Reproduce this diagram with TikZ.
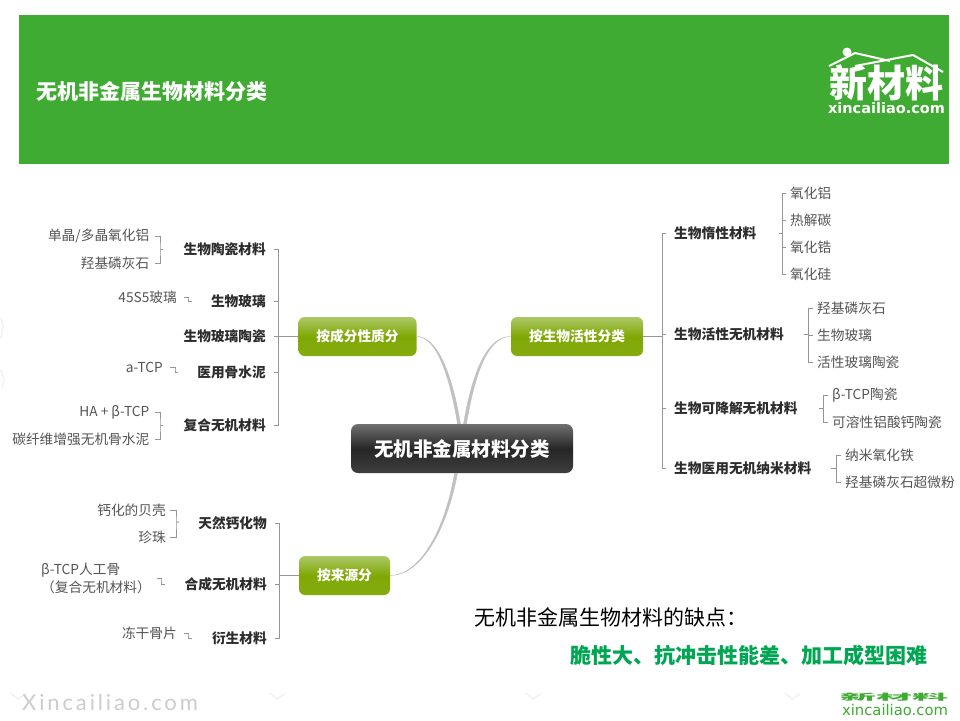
\documentclass[tikz,border=0pt]{standalone}
\usepackage{fontspec}
\setmainfont{Noto Sans CJK SC}
\newfontfamily\logofont{DejaVu Sans}
\newfontfamily\markfont[LetterSpace=13]{Lato}
\usepackage{xcolor}
\usepackage{tikz}
\definecolor{bannergreen}{RGB}{63, 171, 50}
\definecolor{notegreen}{RGB}{0, 166, 81}
\definecolor{twiggray}{RGB}{150, 150, 150}
\definecolor{boughgray}{RGB}{192, 192, 192}
\definecolor{kidtext}{RGB}{45, 45, 45}
\definecolor{leaftext}{RGB}{85, 85, 85}
\definecolor{coretop}{RGB}{112, 112, 112}
\definecolor{coremid}{RGB}{38, 38, 38}
\definecolor{corelow}{RGB}{62, 62, 62}
\definecolor{hubtop}{RGB}{172, 200, 104}
\definecolor{hubmid}{RGB}{128, 168, 4}
\definecolor{hublow}{RGB}{132, 172, 16}
\pgfdeclareverticalshading{coregloss}{100bp}{color(0bp)=(corelow); color(25bp)=(corelow); color(50bp)=(coremid); color(75bp)=(coretop); color(100bp)=(coretop)}
\pgfdeclareverticalshading{hubgloss}{100bp}{color(0bp)=(hublow); color(25bp)=(hublow); color(50bp)=(hubmid); color(75bp)=(hubtop); color(100bp)=(hubtop)}
\tikzset{
	core/.style={draw=none, rounded corners=7pt, shading=coregloss, text=white, font=\fontsize{19.5}{22}\selectfont\bfseries, minimum width=222pt, minimum height=49pt, inner sep=0pt},
	hub/.style={draw=none, rounded corners=6pt, shading=hubgloss, text=white, font=\fontsize{13.7}{16}\selectfont\bfseries, minimum height=39pt, inner sep=0pt},
	kid/.style={text=kidtext, font=\fontsize{13.7}{16}\selectfont\bfseries, inner sep=0pt},
	leaf/.style={text=leaftext, font=\fontsize{13.7}{18}\selectfont, inner sep=0pt, yshift=-1pt},
	twig/.style={draw=twiggray, line width=0.9pt},
	bough/.style={draw=boughgray, fill=boughgray, line width=0.3pt},
	faint/.style={draw=black!5, line width=1.5pt, line cap=round},
}

\begin{document}
\begin{tikzpicture}[x=1pt, y=-1pt]
	\useasboundingbox (0,0) rectangle (960,720);
	\fill[white] (0,0) rectangle (960,720);

	% Banner
	\fill[bannergreen] (19,15) rectangle (949,164);
	\node[anchor=west, text=white, inner sep=0pt, font=\fontsize{21}{24}\selectfont\bfseries] (title) at (36,91) {无机非金属生物材料分类};

	% Logo in the banner
	\fill[white] (847,52) circle (4.5);
	\draw[white, line width=2pt] (829,66) -- (855,53) -- (890,61);
	\draw[white, line width=2pt] (855,66) -- (913,55) -- (943,72);
	\node[text=white, inner sep=0pt, font=\fontsize{38}{40}\selectfont\bfseries] (logoname) at (886,83) {新材料};
	\node[text=white, inner sep=0pt, font=\logofont\fontsize{14.5}{17}\selectfont\bfseries] (logoweb) at (886.5,108) {xincailiao.com};

	% Centre and the three hubs
	\node[hub, minimum width=118pt] (hubA) at (357.5,336.5) {按成分性质分};
	\node[hub, minimum width=132pt] (hubB) at (577,336.5) {按生物活性分类};
	\node[hub, minimum width=91pt] (hubC) at (344.5,575.5) {按来源分};
	\node[core] (core) at (462,448.5) {无机非金属材料分类};

	% Curves into the centre
	\draw[bough] (hubA.east) .. controls (436,336) and (451.5,370) .. ([xshift=-1.5pt]core.north) -- ([xshift=-4.5pt]core.north) .. controls (448.5,370) and (435,336.6) .. (hubA.east);
	\draw[bough] (hubB.west) .. controls (488,336) and (472.5,370) .. ([xshift=1.5pt]core.north) -- ([xshift=4.5pt]core.north) .. controls (475.5,370) and (489,336.6) .. (hubB.west);
	\draw[bough] (hubC.east) .. controls (420,575) and (445,530) .. ([xshift=-7.5pt]core.south) -- ([xshift=-4.5pt]core.south) .. controls (447,530) and (421,575.6) .. (hubC.east);

	% Hub A: composition
	\coordinate (trunkA) at (278,336.5);
	\node[kid, anchor=east] (kidA1) at (266,249) {生物陶瓷材料};
	\node[kid, anchor=east] (kidA2) at (266,301) {生物玻璃};
	\node[kid, anchor=east] (kidA3) at (266,336.5) {生物玻璃陶瓷};
	\node[kid, anchor=east] (kidA4) at (266,372) {医用骨水泥};
	\node[kid, anchor=east] (kidA5) at (266,425) {复合无机材料};
	\draw[twig] (hubA.west) -- (trunkA);
	\draw[twig, shorten <=8pt] (kidA1.east) -| (trunkA);
	\draw[twig, shorten <=8pt] (kidA2.east) -| (trunkA);
	\draw[twig, shorten <=8pt] (kidA3.east) -- (trunkA);
	\draw[twig, shorten <=8pt] (kidA4.east) -| (trunkA);
	\draw[twig, shorten <=8pt] (kidA5.east) -| (trunkA);

	% Leaves of hub A
	\coordinate (spineA1) at (160,249);
	\node[leaf, anchor=east] (leafA1) at (149.5,235) {单晶/多晶氧化铝};
	\node[leaf, anchor=east] (leafA2) at (149.5,262) {羟基磷灰石};
	\draw[twig, shorten <=5pt, shorten >=5pt] (leafA1.east) -| (spineA1) |- (leafA2.east);
	\draw[twig, shorten >=20pt] (spineA1) -- (kidA1.west);
	\coordinate (kneeA2) at (188,298);
	\node[leaf, anchor=east] (leafA3) at (177,296) {45S5玻璃};
	\draw[twig, shorten <=7pt, shorten >=19pt] (leafA3.east) -| (kneeA2) |- (kidA2.west);
	\coordinate (kneeA4) at (175,369);
	\node[leaf, anchor=east] (leafA4) at (163,366.5) {a-TCP};
	\draw[twig, shorten <=7pt, shorten >=19pt] (leafA4.east) -| (kneeA4) |- (kidA4.west);
	\coordinate (spineA5) at (160,425);
	\node[leaf, anchor=east] (leafA5) at (149.5,411) {HA\hspace{3pt}+\hspace{3pt}β-TCP};
	\node[leaf, anchor=east] (leafA6) at (149.5,438) {碳纤维增强无机骨水泥};
	\draw[twig, shorten <=5pt, shorten >=5pt] (leafA5.east) -| (spineA5) |- (leafA6.east);
	\draw[twig, shorten >=20pt] (spineA5) -- (kidA5.west);

	% Hub B: bioactivity
	\coordinate (trunkB) at (662,336.5);
	\node[kid, anchor=west] (kidB1) at (674,233) {生物惰性材料};
	\node[kid, anchor=west] (kidB2) at (674,334) {生物活性无机材料};
	\node[kid, anchor=west] (kidB3) at (674,408) {生物可降解无机材料};
	\node[kid, anchor=west] (kidB4) at (674,468) {生物医用无机纳米材料};
	\draw[twig] (hubB.east) -- (trunkB);
	\draw[twig, shorten <=8pt] (kidB1.west) -| (trunkB);
	\draw[twig, shorten <=8pt] (kidB2.west) -| (trunkB);
	\draw[twig, shorten <=8pt] (kidB3.west) -| (trunkB);
	\draw[twig, shorten <=8pt] (kidB4.west) -| (trunkB);

	% Leaves of hub B
	\coordinate (spineB1) at (782,233);
	\node[leaf, anchor=west] (leafB1) at (790,192) {氧化铝};
	\node[leaf, anchor=west] (leafB2) at (790,219) {热解碳};
	\node[leaf, anchor=west] (leafB3) at (790,246) {氧化锆};
	\node[leaf, anchor=west] (leafB4) at (790,273) {氧化硅};
	\draw[twig, shorten <=4pt] (leafB1.west) -| (spineB1);
	\draw[twig, shorten <=4pt] (leafB2.west) -| (spineB1);
	\draw[twig, shorten <=4pt] (leafB3.west) -| (spineB1);
	\draw[twig, shorten <=4pt] (leafB4.west) -| (spineB1);
	\draw[twig, shorten >=22pt] (spineB1) -- (kidB1.east);
	\coordinate (spineB2) at (808,334);
	\node[leaf, anchor=west] (leafB5) at (817,307) {羟基磷灰石};
	\node[leaf, anchor=west] (leafB6) at (817,334) {生物玻璃};
	\node[leaf, anchor=west] (leafB7) at (817,361) {活性玻璃陶瓷};
	\draw[twig, shorten <=4pt] (leafB5.west) -| (spineB2);
	\draw[twig, shorten <=4pt] (leafB6.west) -| (spineB2);
	\draw[twig, shorten <=4pt] (leafB7.west) -| (spineB2);
	\draw[twig, shorten >=20pt] (spineB2) -- (kidB2.east);
	\coordinate (spineB3) at (823,408);
	\node[leaf, anchor=west] (leafB8) at (832,394) {β-TCP陶瓷};
	\node[leaf, anchor=west] (leafB9) at (832,421) {可溶性铝酸钙陶瓷};
	\draw[twig, shorten <=4pt] (leafB8.west) -| (spineB3);
	\draw[twig, shorten <=4pt] (leafB9.west) -| (spineB3);
	\draw[twig, shorten >=21pt] (spineB3) -- (kidB3.east);
	\coordinate (spineB4) at (836,468);
	\node[leaf, anchor=west] (leafB10) at (845,454) {纳米氧化铁};
	\node[leaf, anchor=west] (leafB11) at (845,481) {羟基磷灰石超微粉};
	\draw[twig, shorten <=4pt] (leafB10.west) -| (spineB4);
	\draw[twig, shorten <=4pt] (leafB11.west) -| (spineB4);
	\draw[twig, shorten >=20pt] (spineB4) -- (kidB4.east);

	% Hub C: source
	\coordinate (trunkC) at (279,575.5);
	\node[kid, anchor=east] (kidC1) at (267,523) {天然钙化物};
	\node[kid, anchor=east] (kidC2) at (267,584) {合成无机材料};
	\node[kid, anchor=east] (kidC3) at (267,638) {衍生材料};
	\draw[twig] (hubC.west) -- (trunkC);
	\draw[twig, shorten <=8pt] (kidC1.east) -| (trunkC);
	\draw[twig, shorten <=8pt] (kidC2.east) -| (trunkC);
	\draw[twig, shorten <=8pt] (kidC3.east) -| (trunkC);

	% Leaves of hub C
	\coordinate (spineC1) at (176,522);
	\node[leaf, anchor=east] (leafC1) at (166,509) {钙化的贝壳};
	\node[leaf, anchor=east] (leafC2) at (166,536) {珍珠};
	\draw[twig, shorten <=4pt, shorten >=4pt] (leafC1.east) -| (spineC1) |- (leafC2.east);
	\draw[twig, shorten >=19pt] (spineC1) -- (kidC1.west);
	\coordinate (kneeC2) at (161,580);
	\node[leaf, anchor=west, align=left] (leafC3) at (41,577) {β-TCP人工骨\\（复合无机材料）};
	\draw[twig, shorten <=6pt, shorten >=19pt] (leafC3.east) -| (kneeC2) |- (kidC2.west);
	\coordinate (kneeC3) at (188,634);
	\node[leaf, anchor=east] (leafC4) at (177,632) {冻干骨片};
	\draw[twig, shorten <=7pt, shorten >=20pt] (leafC4.east) -| (kneeC3) |- (kidC3.west);

	% Note
	\node[anchor=west, text=black, inner sep=0pt, font=\fontsize{21}{24}\selectfont] (noteA) at (474,617) {无机非金属生物材料的缺点：};
	\node[anchor=west, text=notegreen, inner sep=0pt, font=\fontsize{21}{25}\selectfont\bfseries] (noteB) at (570,655) {脆性大、抗冲击性能差、加工成型困难};

	% Footer marks
	\foreach \mx in {18,277,533,792} {
		\draw[faint] (\mx-7,693) -- (\mx,699) -- (\mx+8,694);
	}
	\draw[faint] (1,318) -- (3,326) -- (1,338);
	\draw[faint] (1,370) -- (4,380) -- (2,388);
	\node[anchor=west, text=black!20, inner sep=0pt, font=\markfont\fontsize{22}{26}\selectfont] (markweb) at (22,702) {Xincailiao.com};

	% Logo in the footer, only its squat lower part shows
	\node[text=bannergreen, inner sep=0pt, font=\fontsize{36}{38}\selectfont\bfseries] (footname) at (894,697) {\scalebox{1}[0.24]{新材料}};
	\node[text=bannergreen, inner sep=0pt, font=\logofont\fontsize{14.8}{15}\selectfont] (footweb) at (895,710) {xincailiao.com};
\end{tikzpicture}
\end{document}
